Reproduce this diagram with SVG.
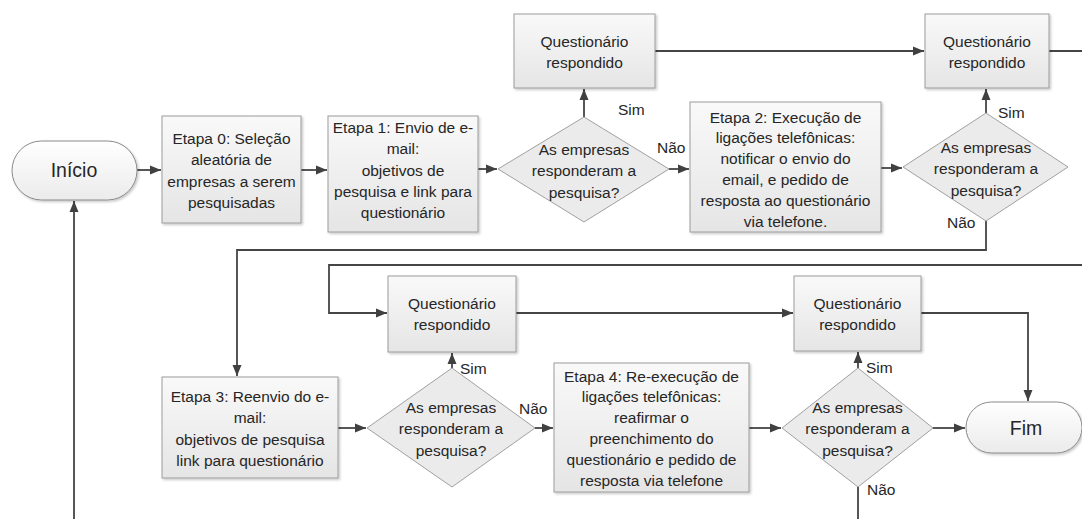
<svg xmlns="http://www.w3.org/2000/svg" width="1082" height="519" viewBox="0 0 1082 519">
<defs>
<linearGradient id="gBox" x1="0" y1="0" x2="0" y2="1"><stop offset="0" stop-color="#f9f9f9"/><stop offset="1" stop-color="#e5e5e5"/></linearGradient>
<linearGradient id="gPill" x1="0" y1="0" x2="0" y2="1"><stop offset="0" stop-color="#ffffff"/><stop offset="1" stop-color="#ebebeb"/></linearGradient>
<filter id="sh" x="-10%" y="-10%" width="130%" height="130%"><feDropShadow dx="1.5" dy="1.5" stdDeviation="1.2" flood-color="#000" flood-opacity="0.22"/></filter>
<marker id="arr" markerUnits="userSpaceOnUse" markerWidth="12" markerHeight="12" viewBox="0 0 12 12" refX="11" refY="6" orient="auto"><path d="M0,1.5 L11,6 L0,10.5 Z" fill="#404040"/></marker>
</defs>
<style>
.box{fill:url(#gBox);stroke:#9c9c9c;stroke-width:1;filter:url(#sh)}
.dia{fill:#ebebeb;stroke:#a0a0a0;stroke-width:1}
.pill{fill:url(#gPill);stroke:#8a8a8a;stroke-width:1;filter:url(#sh)}
text{font-family:"Liberation Sans",Arial,sans-serif;font-size:15.5px;fill:#262626}
.c{text-anchor:middle}
.big{font-size:19.5px}
.con path{fill:none;stroke:#454545;stroke-width:1.8;marker-end:url(#arr)}
.con path.n{marker-end:none}
</style>
<rect width="1082" height="519" fill="#ffffff"/>

<g class="con" id="connectors">
<path d="M137,170 H161"/>
<path d="M301,170 H327"/>
<path d="M478,169 H497"/>
<path d="M584,117 V89"/>
<path d="M669,169 H689"/>
<path d="M655,51 H924"/>
<path class="n" d="M1049,51 H1082"/>
<path d="M881,168 H902"/>
<path d="M986,113 V89"/>
<path d="M986,221 V250 H237 V376"/>
<path d="M1084,265 H329 V313 H387"/>
<path d="M338,428 H366"/>
<path d="M452,368 V353"/>
<path d="M535,428 H553"/>
<path d="M516,313 H793"/>
<path d="M921,313 H1028 V401"/>
<path d="M749,428 H781"/>
<path d="M858,368 V352"/>
<path d="M933,428 H965"/>
<path d="M858,487 V520 H74 V201"/>
</g>

<g id="inicio">
<rect class="pill" x="12" y="141" width="125" height="59" rx="29.5"/>
<text class="c big" x="74" y="177">Início</text>
</g>

<g id="etapa0">
<rect class="box" x="162" y="116" width="139" height="107"/>
<text class="c" x="231.5" y="143.5">Etapa 0: Seleção</text>
<text class="c" x="231.5" y="165">aleatória de</text>
<text class="c" x="231.5" y="186.5">empresas a serem</text>
<text class="c" x="231.5" y="208">pesquisadas</text>
</g>

<g id="etapa1">
<rect class="box" x="328" y="116" width="150" height="116"/>
<text class="c" x="403" y="132.5">Etapa 1: Envio de e-</text>
<text class="c" x="403" y="154">mail:</text>
<text class="c" x="403" y="175.5">objetivos de</text>
<text class="c" x="403" y="197">pesquisa e link para</text>
<text class="c" x="403" y="218">questionário</text>
</g>

<g id="decisao1">
<polygon class="dia" points="584,117 669,169 584,222 498,169"/>
<text class="c" x="584" y="154.5">As empresas</text>
<text class="c" x="584" y="176">responderam a</text>
<text class="c" x="584" y="197.5">pesquisa?</text>
<text x="618" y="114.5">Sim</text>
<text x="657" y="153">Não</text>
</g>

<g id="questionario1">
<rect class="box" x="514" y="14" width="141" height="74"/>
<text class="c" x="584.5" y="46.5">Questionário</text>
<text class="c" x="584.5" y="67.5">respondido</text>
</g>

<g id="etapa2">
<rect class="box" x="690" y="102" width="191" height="130"/>
<text class="c" x="785.5" y="122.5">Etapa 2: Execução de</text>
<text class="c" x="785.5" y="143.3">ligações telefônicas:</text>
<text class="c" x="785.5" y="164.1">notificar o envio do</text>
<text class="c" x="785.5" y="184.9">email, e pedido de</text>
<text class="c" x="785.5" y="205.7">resposta ao questionário</text>
<text class="c" x="785.5" y="226.5">via telefone.</text>
</g>

<g id="decisao2">
<polygon class="dia" points="986,113 1068,167 986,221 903,167"/>
<text class="c" x="986" y="152.5">As empresas</text>
<text class="c" x="986" y="174">responderam a</text>
<text class="c" x="986" y="195.5">pesquisa?</text>
<text x="998" y="117.5">Sim</text>
<text x="947" y="227.5">Não</text>
</g>

<g id="questionario2">
<rect class="box" x="925" y="14" width="124" height="74"/>
<text class="c" x="987" y="46.5">Questionário</text>
<text class="c" x="987" y="67.5">respondido</text>
</g>

<g id="etapa3">
<rect class="box" x="162" y="377" width="176" height="101"/>
<text class="c" x="250" y="401.5">Etapa 3: Reenvio do e-</text>
<text class="c" x="250" y="423">mail:</text>
<text class="c" x="250" y="444.5">objetivos de pesquisa</text>
<text class="c" x="250" y="466">link para questionário</text>
</g>

<g id="decisao3">
<polygon class="dia" points="452,368 535,428 452,487 367,428"/>
<text class="c" x="451" y="412.5">As empresas</text>
<text class="c" x="451" y="434">responderam a</text>
<text class="c" x="451" y="455.5">pesquisa?</text>
<text x="460" y="374">Sim</text>
<text x="519" y="413.5">Não</text>
</g>

<g id="questionario3">
<rect class="box" x="388" y="276" width="128" height="76"/>
<text class="c" x="452" y="308.5">Questionário</text>
<text class="c" x="452" y="329.5">respondido</text>
</g>

<g id="etapa4">
<rect class="box" x="554" y="363" width="195" height="129"/>
<text class="c" x="651.5" y="381.5">Etapa 4: Re-execução de</text>
<text class="c" x="651.5" y="402.3">ligações telefônicas:</text>
<text class="c" x="651.5" y="423.1">reafirmar o</text>
<text class="c" x="651.5" y="443.9">preenchimento do</text>
<text class="c" x="651.5" y="464.7">questionário e pedido de</text>
<text class="c" x="651.5" y="485.5">resposta via telefone</text>
</g>

<g id="decisao4">
<polygon class="dia" points="858,368 933,428 858,487 782,428"/>
<text class="c" x="857.5" y="412.5">As empresas</text>
<text class="c" x="857.5" y="434">responderam a</text>
<text class="c" x="857.5" y="455.5">pesquisa?</text>
<text x="866" y="372.5">Sim</text>
<text x="867" y="494.5">Não</text>
</g>

<g id="questionario4">
<rect class="box" x="794" y="276" width="127" height="75"/>
<text class="c" x="857.5" y="308.5">Questionário</text>
<text class="c" x="857.5" y="329.5">respondido</text>
</g>

<g id="fim">
<rect class="pill" x="966" y="402" width="116" height="51" rx="25.5"/>
<text class="c big" x="1026" y="434.5">Fim</text>
</g>
</svg>
